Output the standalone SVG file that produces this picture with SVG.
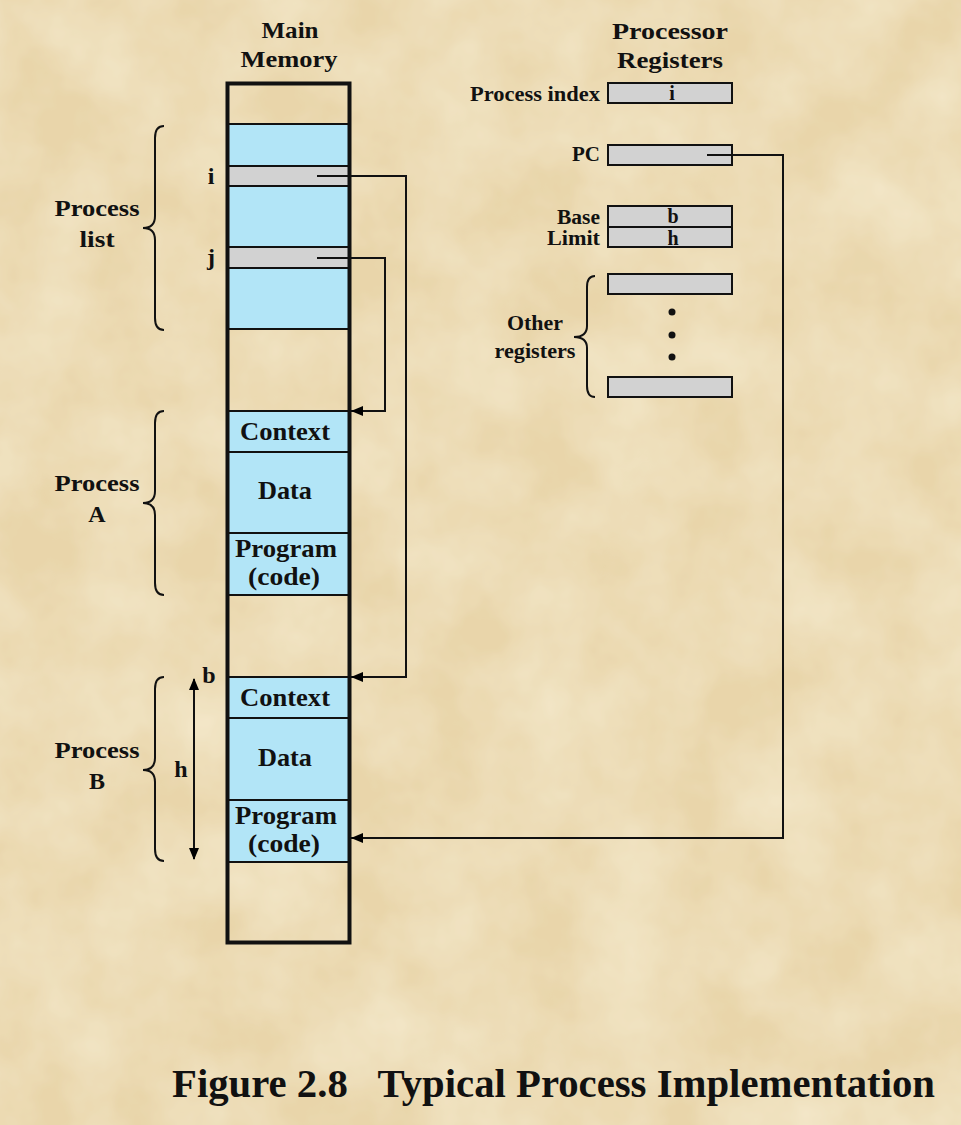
<svg xmlns="http://www.w3.org/2000/svg" width="961" height="1125" viewBox="0 0 961 1125">
<defs>
<filter id="paper" x="0" y="0" width="100%" height="100%">
<feTurbulence type="fractalNoise" baseFrequency="0.012" numOctaves="4" seed="3" result="n"/>
<feColorMatrix in="n" type="matrix" values="0 0 0 0 0.93  0 0 0 0 0.85  0 0 0 0 0.66  -1.4 0 0 0 1.05" result="c"/>
<feComposite in="c" in2="SourceGraphic" operator="over"/>
</filter>
<marker id="ah" viewBox="0 0 12 10" refX="12" refY="5" markerWidth="12" markerHeight="10" markerUnits="userSpaceOnUse" orient="auto">
<path d="M0,0 L12,5 L0,10 Z" fill="#000"/>
</marker>
<marker id="ahs" viewBox="0 0 12 10" refX="11" refY="5" markerWidth="12" markerHeight="10" markerUnits="userSpaceOnUse" orient="auto-start-reverse">
<path d="M0,0 L12,5 L0,10 Z" fill="#000"/>
</marker>
</defs>
<style>
text{font-family:"Liberation Serif","Times New Roman",serif;font-weight:bold;fill:#111}
.t24{font-size:24px}
.t25{font-size:25px}
.t20{font-size:20px}
.blue{fill:#b2e5f7;stroke:#111;stroke-width:2}
.grey{fill:#d2d2d2;stroke:#111;stroke-width:2}
.reg{fill:#d2d2d2;stroke:#111;stroke-width:2}
.brace{fill:none;stroke:#111;stroke-width:2}
.conn{fill:none;stroke:#111;stroke-width:2}
.mid{text-anchor:middle}
.end{text-anchor:end}
</style>
<rect x="0" y="0" width="961" height="1125" fill="#ecdab0"/>
<rect x="0" y="0" width="961" height="1125" fill="#e8d4a8" filter="url(#paper)" opacity="0.7"/>

<g id="main-memory-title">
<text class="t24 mid" x="290" y="38" textLength="57" lengthAdjust="spacingAndGlyphs">Main</text>
<text class="t24 mid" x="289" y="67" textLength="97" lengthAdjust="spacingAndGlyphs">Memory</text>
</g>
<g id="registers-title">
<text class="t24 mid" x="670" y="39" textLength="116" lengthAdjust="spacingAndGlyphs">Processor</text>
<text class="t24 mid" x="670" y="68" textLength="106" lengthAdjust="spacingAndGlyphs">Registers</text>
</g>

<g id="process-list">
<rect class="blue" x="228" y="124" width="122" height="42"/>
<rect class="grey" x="228" y="166" width="122" height="20"/>
<rect class="blue" x="228" y="186" width="122" height="61"/>
<rect class="grey" x="228" y="247" width="122" height="21"/>
<rect class="blue" x="228" y="268" width="122" height="61"/>
<text class="t24 mid" x="211" y="184">i</text>
<text class="t24 mid" x="211" y="265">j</text>
</g>

<g id="process-a">
<rect class="blue" x="228" y="411" width="122" height="41"/>
<rect class="blue" x="228" y="452" width="122" height="81"/>
<rect class="blue" x="228" y="533" width="122" height="62"/>
<text class="t25 mid" x="285" y="440" textLength="90" lengthAdjust="spacingAndGlyphs">Context</text>
<text class="t25 mid" x="285" y="499" textLength="54" lengthAdjust="spacingAndGlyphs">Data</text>
<text class="t25 mid" x="286" y="557" textLength="102" lengthAdjust="spacingAndGlyphs">Program</text>
<text class="t25 mid" x="284" y="585" textLength="72" lengthAdjust="spacingAndGlyphs">(code)</text>
</g>

<g id="process-b">
<rect class="blue" x="228" y="677" width="122" height="41"/>
<rect class="blue" x="228" y="718" width="122" height="82"/>
<rect class="blue" x="228" y="800" width="122" height="62"/>
<text class="t25 mid" x="285" y="706" textLength="90" lengthAdjust="spacingAndGlyphs">Context</text>
<text class="t25 mid" x="285" y="766" textLength="54" lengthAdjust="spacingAndGlyphs">Data</text>
<text class="t25 mid" x="286" y="824" textLength="102" lengthAdjust="spacingAndGlyphs">Program</text>
<text class="t25 mid" x="284" y="852" textLength="72" lengthAdjust="spacingAndGlyphs">(code)</text>
</g>

<g id="main-memory">
<rect x="227.5" y="83.5" width="122" height="859" fill="none" stroke="#111" stroke-width="4"/>
</g>

<g id="labels-left">
<path class="brace" d="M164 126 Q155 126 155 138 L155 216 Q155 228 143 228 Q155 228 155 240 L155 318 Q155 330 164 330"/>
<text class="t24 mid" x="97" y="216" textLength="85" lengthAdjust="spacingAndGlyphs">Process</text>
<text class="t24 mid" x="97" y="247" textLength="35" lengthAdjust="spacingAndGlyphs">list</text>
<path class="brace" d="M164 411 Q155 411 155 423 L155 491 Q155 503 143 503 Q155 503 155 515 L155 583 Q155 595 164 595"/>
<text class="t24 mid" x="97" y="491" textLength="85" lengthAdjust="spacingAndGlyphs">Process</text>
<text class="t24 mid" x="97" y="522">A</text>
<path class="brace" d="M164 677 Q155 677 155 689 L155 758 Q155 770 143 770 Q155 770 155 782 L155 849 Q155 861 164 861"/>
<text class="t24 mid" x="97" y="758" textLength="85" lengthAdjust="spacingAndGlyphs">Process</text>
<text class="t24 mid" x="97" y="789">B</text>
</g>

<g id="base-limit-span">
<line class="conn" x1="194" y1="679" x2="194" y2="859" marker-start="url(#ahs)" marker-end="url(#ahs)"/>
<text class="t24 mid" x="209" y="683">b</text>
<text class="t24 mid" x="181" y="777">h</text>
</g>

<g id="reg-process-index">
<text class="t20 end" x="600" y="101" textLength="130" lengthAdjust="spacingAndGlyphs">Process index</text>
<rect class="reg" x="608" y="83" width="124" height="20"/>
<text class="t20 mid" x="672" y="100">i</text>
</g>
<g id="reg-pc">
<text class="t20 end" x="600" y="161" textLength="28" lengthAdjust="spacingAndGlyphs">PC</text>
<rect class="reg" x="608" y="145" width="124" height="20"/>
</g>
<g id="reg-base-limit">
<text class="t20 end" x="600" y="224" textLength="43" lengthAdjust="spacingAndGlyphs">Base</text>
<text class="t20 end" x="600" y="245" textLength="53" lengthAdjust="spacingAndGlyphs">Limit</text>
<rect class="reg" x="608" y="206" width="124" height="21"/>
<rect class="reg" x="608" y="227" width="124" height="20"/>
<text class="t20 mid" x="673" y="223">b</text>
<text class="t20 mid" x="673" y="245">h</text>
</g>
<g id="reg-other">
<rect class="reg" x="608" y="274" width="124" height="20"/>
<rect class="reg" x="608" y="377" width="124" height="20"/>
<circle cx="672" cy="312" r="3.5" fill="#111"/>
<circle cx="672" cy="335" r="3.5" fill="#111"/>
<circle cx="672" cy="357" r="3.5" fill="#111"/>
<path class="brace" d="M595 276 Q587 276 587 287 L587 326 Q587 337 574 337 Q587 337 587 348 L587 386 Q587 397 595 397"/>
<text class="t20 mid" x="535" y="330" textLength="56" lengthAdjust="spacingAndGlyphs">Other</text>
<text class="t20 mid" x="535" y="358" textLength="81" lengthAdjust="spacingAndGlyphs">registers</text>
</g>

<g id="connectors">
<polyline class="conn" points="317,176 406,176 406,677 351,677" marker-end="url(#ah)"/>
<polyline class="conn" points="317,258 385,258 385,411 351,411" marker-end="url(#ah)"/>
<polyline class="conn" points="707,155 783,155 783,838 351,838" marker-end="url(#ah)"/>
</g>

<g id="caption">
<text x="172" y="1097" style="font-size:40px" xml:space="preserve" textLength="763" lengthAdjust="spacingAndGlyphs">Figure 2.8   Typical Process Implementation</text>
</g>
</svg>
